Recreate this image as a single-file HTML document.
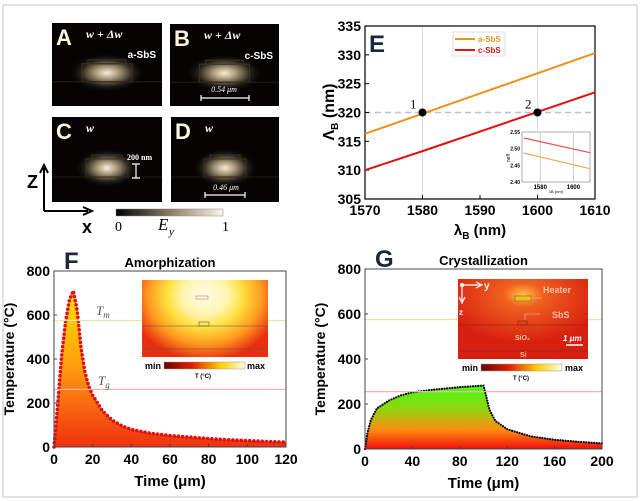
<!DOCTYPE html>
<html><head><meta charset="utf-8"><style>
body{margin:0;background:#fff;}
svg{display:block;font-family:"Liberation Sans",sans-serif;}
</style></head><body>
<svg id="fig" width="640" height="501" viewBox="0 0 640 501" xmlns="http://www.w3.org/2000/svg">
<defs>
<radialGradient id="glow" cx="0.5" cy="0.5" r="0.5">
<stop offset="0" stop-color="#f8eedc"/><stop offset="0.3" stop-color="#a89878"/><stop offset="0.65" stop-color="#2a241a"/><stop offset="1" stop-color="#000" stop-opacity="0"/>
</radialGradient>
<linearGradient id="eyBar" x1="0" x2="1"><stop offset="0" stop-color="#000"/><stop offset="0.5" stop-color="#8a7a62"/><stop offset="1" stop-color="#fdf6e6"/></linearGradient>
<linearGradient id="tBar" x1="0" x2="1"><stop offset="0" stop-color="#6a0000"/><stop offset="0.35" stop-color="#e02000"/><stop offset="0.7" stop-color="#ffd000"/><stop offset="1" stop-color="#fffbe8"/></linearGradient>
<linearGradient id="fFill" x1="0" y1="0" x2="0" y2="1"><stop offset="0" stop-color="#ffe300"/><stop offset="0.5" stop-color="#ff9a10"/><stop offset="1" stop-color="#f03010"/></linearGradient>
<linearGradient id="gFill" x1="0" y1="0" x2="0" y2="1"><stop offset="0" stop-color="#40ff10"/><stop offset="0.4" stop-color="#9ad010"/><stop offset="0.7" stop-color="#ff8a10"/><stop offset="1" stop-color="#f01010"/></linearGradient>
<radialGradient id="fHeat" cx="0.5" cy="0.2" r="0.6" gradientTransform="translate(0.5 0.2) scale(1 1.4) translate(-0.5 -0.2)"><stop offset="0" stop-color="#fffbe8"/><stop offset="0.3" stop-color="#fff5b0"/><stop offset="0.5" stop-color="#ffe040"/><stop offset="0.75" stop-color="#ff9a20"/><stop offset="1" stop-color="#e83010"/></radialGradient>
<radialGradient id="gHeat" cx="0.5" cy="0.2" r="0.6"><stop offset="0" stop-color="#ffc040"/><stop offset="0.25" stop-color="#f06020"/><stop offset="1" stop-color="#d82010"/></radialGradient>
</defs>
<rect x="3" y="5" width="634" height="492" fill="none" stroke="#cfcfcf" stroke-width="1.2"/>
<g id="modes"></g>
<g id="E"></g>
<g id="F"></g>
<g id="G"></g>
</svg>
<script>
// ---- Panel E data ----
const eX = [1570, 1580, 1590, 1600, 1610];
const eASbS = [316.3, 319.8, 323.3, 326.8, 330.3];
const eCSbS = [310.0, 313.3, 316.7, 320.1, 323.5];
const eMarkX = [1580, 1600];
const eMarkY = [320, 320];
const eMarkLbl = ["1", "2"];
const eXTicks = [1570, 1580, 1590, 1600, 1610];
const eYTicks = [305, 310, 315, 320, 325, 330, 335];
const insX = [1570, 1610];
const insA = [2.487, 2.440];
const insC = [2.532, 2.488];
const insYTicks = [2.40, 2.45, 2.50, 2.55];
const insXTicks = [1580, 1600];
// ---- Panel F data ----
const fT = [0,1,2,4,6,8,10,12,14,16,18,20,25,30,35,40,50,60,70,80,90,100,110,120];
const fV = [0,100,200,420,570,670,710,620,450,340,275,235,165,122,97,80,62,52,45,38,33,29,25,22];
const fXTicks = [0,20,40,60,80,100,120];
const yTicks = [0,200,400,600,800];
const fTm = 575, fTg = 262;
// ---- Panel G data ----
const gT = [0,2,5,10,20,30,40,60,80,100,102,105,110,120,140,160,180,200];
const gV = [0,70,130,180,215,238,252,265,275,282,240,175,125,88,56,41,32,25];
const gXTicks = [0,40,80,120,160,200];
const gTm = 575, gTg = 255;

const NS = "http://www.w3.org/2000/svg";
function mk(parent, tag, attrs, text){
  const el = document.createElementNS(NS, tag);
  for (const k in attrs) el.setAttribute(k, attrs[k]);
  if (text !== undefined) el.textContent = text;
  parent.appendChild(el);
  return el;
}
function lin(d0,d1,r0,r1){return v=>r0+(v-d0)*(r1-r0)/(d1-d0);}

// ---- Mode panels A-D ----
const M = document.getElementById('modes');
const panels = [
 {x:52,y:23,w:110,h:83,l:"A",t:"w + Δw",s:"a-SbS",bw:50},
 {x:170,y:24,w:109,h:82,l:"B",t:"w + Δw",s:"c-SbS",bw:50},
 {x:52,y:117,w:110,h:85,l:"C",t:"w",s:"",bw:42},
 {x:171,y:117,w:108,h:85,l:"D",t:"w",s:"",bw:42}
];
panels.forEach((p,i)=>{
  const g = mk(M,'g',{});
  
  
  mk(g,'rect',{x:p.x,y:p.y,width:p.w,height:p.h,fill:'#050403'});
  const cx=p.x+p.w/2, cy=p.y+p.h*0.6;
  mk(g,'ellipse',{cx:cx,cy:cy,rx:p.bw*0.8,ry:p.h*0.24,fill:'url(#glow)'});
  mk(g,'rect',{x:cx-p.bw/2,y:cy-9,width:p.bw,height:18,fill:'none',stroke:'#3a3228','stroke-width':1});
  mk(g,'rect',{x:cx-p.bw/2+6,y:cy-13,width:p.bw-12,height:4,fill:'none',stroke:'#3a3228','stroke-width':1});
  mk(g,'line',{x1:p.x,x2:p.x+p.w,y1:cy+9,y2:cy+9,stroke:'#2a241c','stroke-width':0.8});
  const lt = mk(g,'text',{x:p.x+4,y:p.y+22,fill:'#fff4dc','font-size':22,'font-weight':'bold'},p.l);
  
  
  mk(g,'text',{x:p.x+34,y:p.y+15,fill:'#fff','font-size':12,'font-style':'italic','font-family':'Liberation Serif, serif','font-weight':'bold'},p.t);
  if(p.s) mk(g,'text',{x:p.x+p.w-6,y:p.y+35,fill:'#fff','font-size':10,'font-weight':'bold','text-anchor':'end'},p.s);
});
mk(M,'text',{x:224,y:92,fill:'#fff','font-size':8,'font-family':'Liberation Serif, serif','text-anchor':'middle','font-style':'italic'},'0.54 μm');
mk(M,'path',{d:'M201 98H249M201 95V101M249 95V101',stroke:'#fff','stroke-width':1.2,fill:'none'});
mk(M,'text',{x:226,y:190,fill:'#fff','font-size':8,'font-family':'Liberation Serif, serif','text-anchor':'middle','font-style':'italic'},'0.46 μm');
mk(M,'path',{d:'M205 195H245M205 192V198M245 192V198',stroke:'#fff','stroke-width':1.2,fill:'none'});
mk(M,'text',{x:127,y:160,fill:'#fff','font-size':8,'font-family':'Liberation Serif, serif','font-weight':'bold'},'200 nm');
mk(M,'path',{d:'M136 164V178M132 164H140M132 178H140',stroke:'#fff','stroke-width':1.2,fill:'none'});
mk(M,'path',{d:'M44 211V168M40 173L44 165L48 173M44 211H88M83 207L92 211L83 215',stroke:'#000','stroke-width':2,fill:'none'});
mk(M,'text',{x:27,y:188,'font-size':18,'font-weight':'bold'},'Z');
mk(M,'text',{x:82,y:233,'font-size':18,'font-weight':'bold'},'x');
const eyb = mk(M,'rect',{x:116,y:209,width:107,height:7,fill:'url(#eyBar)',stroke:'#888','stroke-width':0.5});


mk(M,'text',{x:115,y:231,'font-size':14,'font-family':'Liberation Serif, serif'},'0');
mk(M,'text',{x:222,y:231,'font-size':14,'font-family':'Liberation Serif, serif'},'1');
mk(M,'text',{x:158,y:230,'font-size':17,'font-style':'italic','font-family':'Liberation Serif, serif'},'E');
mk(M,'text',{x:169,y:235,'font-size':11,'font-style':'italic','font-family':'Liberation Serif, serif'},'y');

// ---- Panel E ----
(function(){
  const G = document.getElementById('E');
  const L=365,R=595,T=26,B=199;
  const sx=lin(1570,1610,L,R), sy=lin(305,335,B,T);
  eXTicks.forEach(v=>{ if(v===1580||v===1600){mk(G,'line',{x1:sx(v),x2:sx(v),y1:T,y2:B,stroke:'#ddd','stroke-width':1});} });
  mk(G,'line',{x1:L,x2:R,y1:sy(320),y2:sy(320),stroke:'#b8c0e0','stroke-width':1.5,'stroke-dasharray':'6,4'});
  mk(G,'rect',{x:L,y:T,width:R-L,height:B-T,fill:'none',stroke:'#000','stroke-width':1.2});
  eXTicks.forEach(v=>{
    mk(G,'line',{x1:sx(v),x2:sx(v),y1:B,y2:B-4,stroke:'#000'});
    mk(G,'text',{x:sx(v),y:B+16,'font-size':14,'font-weight':'bold','text-anchor':'middle'},v);
  });
  eYTicks.forEach(v=>{
    mk(G,'line',{x1:L,x2:L+4,y1:sy(v),y2:sy(v),stroke:'#000'});
    mk(G,'text',{x:L-4,y:sy(v)+5,'font-size':14,'font-weight':'bold','text-anchor':'end'},v);
  });
  mk(G,'text',{x:480,y:235,'font-size':15,'font-weight':'bold','text-anchor':'middle'},'λB (nm)').innerHTML='λ<tspan font-size="10" dy="4">B</tspan><tspan dy="-4"> (nm)</tspan>';
  const yl = mk(G,'text',{transform:'translate(334,112) rotate(-90)','font-size':16,'font-weight':'bold','text-anchor':'middle'});
  yl.innerHTML='Λ<tspan font-size="10" dy="4">B</tspan><tspan dy="-4"> (nm)</tspan>';
  const la = mk(G,'polyline',{points:eX.map((x,i)=>sx(x)+','+sy(eASbS[i])).join(' '),fill:'none',stroke:'#f0901a','stroke-width':2});
   
  const lc = mk(G,'polyline',{points:eX.map((x,i)=>sx(x)+','+sy(eCSbS[i])).join(' '),fill:'none',stroke:'#e01010','stroke-width':2});
   
  eMarkX.forEach((x,i)=>{
    const c=mk(G,'circle',{cx:sx(x),cy:sy(eMarkY[i]),r:4,fill:'#000'});
     
    mk(G,'text',{x:sx(x)-6,y:sy(eMarkY[i])-4,'font-size':13,'font-family':'Liberation Serif, serif','text-anchor':'end'},eMarkLbl[i]);
  });
  mk(G,'text',{x:369,y:52,'font-size':24,'font-weight':'bold',fill:'#1a2540'},'E');
  const lg = mk(G,'g',{});
   
  mk(lg,'rect',{x:453,y:32,width:52,height:24,fill:'#fff',stroke:'#ddd'});
  mk(lg,'line',{x1:455,x2:475,y1:39,y2:39,stroke:'#f0901a','stroke-width':2});
  mk(lg,'text',{x:478,y:42,'font-size':8,'font-weight':'bold',fill:'#f0901a'},'a-SbS');
  mk(lg,'line',{x1:455,x2:475,y1:50,y2:50,stroke:'#e01010','stroke-width':2});
  mk(lg,'text',{x:478,y:53,'font-size':8,'font-weight':'bold',fill:'#e01010'},'c-SbS');
  const IL=522,IR=590,IT=132,IB=182;
  const ix=lin(1569,1610,IL,IR), iy=lin(2.40,2.55,IB,IT);
  const ig=mk(G,'g',{});  
  mk(ig,'rect',{x:IL,y:IT,width:IR-IL,height:IB-IT,fill:'#fff',stroke:'#999','stroke-width':0.8});
  insXTicks.forEach(v=>{mk(ig,'line',{x1:ix(v),x2:ix(v),y1:IT,y2:IB,stroke:'#ccc'});mk(ig,'text',{x:ix(v),y:IB+7,'font-size':6,'font-weight':'bold','text-anchor':'middle'},v);});
  insYTicks.forEach(v=>mk(ig,'text',{x:IL-2,y:iy(v)+2,'font-size':5,'font-weight':'bold','text-anchor':'end'},v.toFixed(2)));
  mk(ig,'polyline',{points:insX.map((x,i)=>ix(x)+','+iy(insA[i])).join(' '),fill:'none',stroke:'#f5a850','stroke-width':1.2});
  mk(ig,'polyline',{points:insX.map((x,i)=>ix(x)+','+iy(insC[i])).join(' '),fill:'none',stroke:'#f05050','stroke-width':1.2});
  mk(ig,'text',{x:556,y:193,'font-size':4,'text-anchor':'middle'},'λB (nm)');
  mk(ig,'text',{transform:'translate(510,158) rotate(-90)','font-size':5,'text-anchor':'middle'},'neff');
})();

function tempPlot(id,o){
  const G=document.getElementById(id);
  const sx=lin(0,o.xmax,o.L,o.R), sy=lin(0,800,o.B,o.T);
  const pts=o.t.map((t,i)=>[sx(t),sy(o.v[i])]);
  const area=mk(G,'path',{d:'M'+sx(0)+','+o.B+' '+pts.map(p=>'L'+p[0]+','+p[1]).join(' ')+' L'+sx(o.t[o.t.length-1])+','+o.B+'Z',fill:o.fill});
   
  const path=mk(G,'path',{d:'M'+pts.map(p=>p[0]+','+p[1]).join(' L'),fill:'none',stroke:'none'});
  const len=path.getTotalLength(); const n=Math.floor(len/o.step);
  for(let k=0;k<=n;k++){const q=path.getPointAtLength(k*o.step);
    const d=mk(G,'circle',{cx:q.x,cy:q.y,r:o.dotR,fill:o.dot});
     }
  mk(G,'line',{x1:o.L,x2:o.R,y1:sy(o.tm),y2:sy(o.tm),stroke:'#f5e2a0','stroke-width':1.2});
  mk(G,'line',{x1:o.L,x2:o.R,y1:sy(o.tg),y2:sy(o.tg),stroke:'#f5b0b0','stroke-width':1.2});
  mk(G,'rect',{x:o.L,y:o.T,width:o.R-o.L,height:o.B-o.T,fill:'none',stroke:'#444','stroke-width':1});
  o.xt.forEach(v=>{mk(G,'line',{x1:sx(v),x2:sx(v),y1:o.B,y2:o.B-3,stroke:'#444'});
    mk(G,'text',{x:sx(v),y:o.B+17,'font-size':14,'font-weight':'bold','text-anchor':'middle'},v);});
  yTicks.forEach(v=>{mk(G,'line',{x1:o.L,x2:o.L+3,y1:sy(v),y2:sy(v),stroke:'#444'});
    mk(G,'text',{x:o.L-4,y:sy(v)+5,'font-size':14,'font-weight':'bold','text-anchor':'end'},v);});
  const xl=mk(G,'text',{x:(o.L+o.R)/2,y:o.B+39,'font-size':15,'font-weight':'bold','text-anchor':'middle'},'Time (μm)');
   
  const yl=mk(G,'text',{transform:'translate('+(o.L-40)+','+((o.T+o.B)/2)+') rotate(-90)','font-size':14,'font-weight':'bold','text-anchor':'middle'},'Temperature (°C)');
   
  mk(G,'text',{x:o.L+10,y:o.T-2,'font-size':24,'font-weight':'bold',fill:'#1a2540'},id);
  mk(G,'text',{x:(o.L+o.R)/2,y:o.T-4,'font-size':13,'font-weight':'bold','text-anchor':'middle'},o.title);
  return {sx,sy,G};
}
(function(){
  const r=tempPlot('F',{L:54,R:286,T:271,B:447,xmax:120,t:fT,v:fV,fill:'url(#fFill)',dot:'#e01010',dotR:1.8,step:4.2,tm:fTm,tg:fTg,xt:fXTicks,title:'Amorphization'});
  const G=r.G;
  mk(G,'text',{x:96,y:315,'font-size':13,'font-style':'italic','font-family':'Liberation Serif, serif',fill:'#555'},'Tm').innerHTML='T<tspan font-size="9" dy="3">m</tspan>';
  mk(G,'text',{x:98,y:385,'font-size':13,'font-style':'italic','font-family':'Liberation Serif, serif',fill:'#555'},'Tg').innerHTML='T<tspan font-size="9" dy="3">g</tspan>';
  const ins=mk(G,'g',{});  
  mk(ins,'rect',{x:142,y:280,width:126,height:77,fill:'url(#fHeat)'});
  mk(ins,'line',{x1:142,x2:268,y1:326,y2:326,stroke:'#555','stroke-width':0.6});
  mk(ins,'line',{x1:142,x2:268,y1:349,y2:349,stroke:'#555','stroke-width':0.6});
  mk(ins,'rect',{x:196,y:296,width:12,height:3,fill:'none',stroke:'#c08060','stroke-width':0.6});
  mk(ins,'rect',{x:199,y:322,width:10,height:4,fill:'none',stroke:'#555','stroke-width':0.6});
  mk(ins,'rect',{x:164,y:362,width:81,height:7,fill:'url(#tBar)',stroke:'#999','stroke-width':0.5});
  mk(ins,'text',{x:161,y:369,'font-size':9,'font-weight':'bold','text-anchor':'end'},'min');
  mk(ins,'text',{x:247,y:369,'font-size':9,'font-weight':'bold'},'max');
  mk(ins,'text',{x:203,y:378,'font-size':6,'font-weight':'bold','text-anchor':'middle'},'T (°C)');
})();
(function(){
  const r=tempPlot('G',{L:365,R:602,T:269,B:449,xmax:200,t:gT,v:gV,fill:'url(#gFill)',dot:'#000',dotR:1.1,step:2.6,tm:gTm,tg:gTg,xt:gXTicks,title:'Crystallization'});
  const G=r.G;
  const ins=mk(G,'g',{});  
  mk(ins,'rect',{x:458,y:279,width:130,height:80,fill:'url(#gHeat)'});
  mk(ins,'line',{x1:458,x2:588,y1:325,y2:325,stroke:'#802010','stroke-width':0.6});
  mk(ins,'line',{x1:458,x2:588,y1:351,y2:351,stroke:'#802010','stroke-width':0.6});
  mk(ins,'rect',{x:515,y:296,width:16,height:5,fill:'#f0c020',stroke:'#806020','stroke-width':0.6});
  mk(ins,'rect',{x:518,y:321,width:9,height:4,fill:'none',stroke:'#802010','stroke-width':0.6});
  mk(ins,'path',{d:'M462 285H480M476 282L482 285L476 288M462 285V301M459 297L462 303L465 297',stroke:'#fff','stroke-width':1.2,fill:'none'});
  mk(ins,'circle',{cx:462,cy:285,r:2,fill:'#fff'});
  mk(ins,'text',{x:484,y:289,'font-size':10,'font-weight':'bold',fill:'#fff'},'y');
  mk(ins,'text',{x:459,y:315,'font-size':8,'font-weight':'bold',fill:'#fff'},'z');
  mk(ins,'text',{x:543,y:293,'font-size':9,'font-weight':'bold',fill:'#f8c0a0'},'Heater');
  mk(ins,'text',{x:552,y:318,'font-size':9,'font-weight':'bold',fill:'#f8c0a0'},'SbS');
  mk(ins,'text',{x:515,y:340,'font-size':7,'font-weight':'bold',fill:'#f8c0a0'},'SiO₂');
  mk(ins,'text',{x:520,y:357,'font-size':7,'font-weight':'bold',fill:'#f8c0a0'},'Si');
  mk(ins,'text',{x:563,y:341,'font-size':8,'font-weight':'bold','font-style':'italic',fill:'#fff'},'1 μm');
  mk(ins,'line',{x1:566,x2:583,y1:345,y2:345,stroke:'#fff','stroke-width':1.5});
  mk(ins,'path',{d:'M531 298H542M525 314H540M525 314L525 320',stroke:'#f8c0a0','stroke-width':0.6,fill:'none'});
  mk(ins,'rect',{x:481,y:364,width:81,height:7,fill:'url(#tBar)',stroke:'#999','stroke-width':0.5});
  mk(ins,'text',{x:478,y:371,'font-size':9,'font-weight':'bold','text-anchor':'end'},'min');
  mk(ins,'text',{x:565,y:371,'font-size':9,'font-weight':'bold'},'max');
  mk(ins,'text',{x:521,y:380,'font-size':6,'font-weight':'bold','text-anchor':'middle'},'T (°C)');
})();
</script>
</body></html>
